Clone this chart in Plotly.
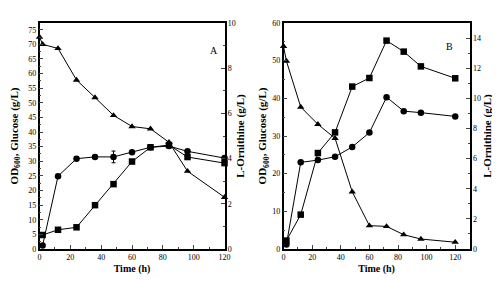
import plotly.graph_objects as go

# ---------------- Panel A data ----------------
time_glc_A = [0, 2, 12, 24, 36, 48, 60, 72, 84, 96, 120]
glucose_A = [72.5, 70.0, 68.6, 57.8, 51.8, 45.7, 41.9, 41.1, 36.5, 26.6, 17.7]
time_A = [2, 12, 24, 36, 48, 60, 72, 84, 96, 120]
od_A = [1.2, 24.9, 30.9, 31.5, 31.5, 33.1, 34.8, 35.2, 33.4, 31.1]
od_err_A = [0, 0, 0, 0, 2.0, 0, 0, 0, 0, 0]
orn_A = [0.62, 0.85, 0.96, 1.94, 2.87, 3.87, 4.5, 4.6, 4.07, 3.8]

# ---------------- Panel B data ----------------
time_glc_B = [0, 2, 12, 24, 36, 48, 60, 72, 84, 96, 120]
glucose_B = [53.8, 49.9, 37.7, 33.1, 29.4, 15.2, 6.2, 6.0, 3.8, 2.65, 1.8]
time_B = [2, 12, 24, 36, 48, 60, 72, 84, 96, 120]
od_B = [1.2, 23.0, 23.6, 24.5, 27.1, 30.9, 40.3, 36.6, 36.2, 35.2]
orn_B = [0.56, 2.28, 6.37, 7.74, 10.78, 11.35, 13.83, 13.1, 12.12, 11.33]

x_ticks = [0, 20, 40, 60, 80, 100, 120]

FONT = "Liberation Serif"
BLACK = "black"

fig = go.Figure()

def add(x, y, sym, xa, ya, err=None):
    tr = dict(x=x, y=y, mode="lines+markers", xaxis=xa, yaxis=ya,
              line=dict(color=BLACK, width=1),
              marker=dict(symbol=sym, size=6.5, color=BLACK),
              showlegend=False, cliponaxis=False)
    if err is not None:
        tr["error_y"] = dict(type="data", array=err, visible=True,
                             color=BLACK, thickness=1, width=2)
    fig.add_trace(go.Scatter(**tr))

# Panel A
add(time_glc_A, glucose_A, "triangle-up", "x", "y")
add(time_A, od_A, "circle", "x", "y", od_err_A)
add(time_A, orn_A, "square", "x", "y2")
# Panel B
add(time_glc_B, glucose_B, "triangle-up", "x2", "y3")
add(time_B, od_B, "circle", "x2", "y3")
add(time_B, orn_B, "square", "x2", "y4")

tickfont = dict(family=FONT, size=8, color=BLACK)
xtitlefont = dict(family=FONT, size=10, color=BLACK, weight="bold")
ytitlefont = dict(family=FONT, size=11, color=BLACK, weight="bold")

def xax(domain, rng, anchor):
    return dict(domain=domain, range=rng, anchor=anchor,
                tickvals=x_ticks, ticks="inside", ticklen=4, tickwidth=1,
                minor=dict(dtick=10, tick0=0, ticks="inside", ticklen=2, tickwidth=1),
                showline=True, linecolor=BLACK, linewidth=1.5, mirror=True,
                showgrid=False, zeroline=False, tickfont=tickfont,
                title=dict(text="Time (h)", font=xtitlefont, standoff=4))

def yleft(rng, dtick, mdtick, anchor, domain, standoff):
    return dict(domain=domain, range=rng, anchor=anchor, dtick=dtick, tick0=0,
                ticks="inside", ticklen=4, tickwidth=1,
                minor=dict(dtick=mdtick, ticks="inside", ticklen=2, tickwidth=1),
                showline=True, linecolor=BLACK, linewidth=1.5, mirror=False,
                showgrid=False, zeroline=False, tickfont=tickfont,
                title=dict(text="OD<sub>600</sub>, Glucose (g/L)", font=ytitlefont,
                           standoff=standoff))

def yright(rng, overlay, anchor):
    return dict(range=rng, overlaying=overlay, anchor=anchor, side="right",
                dtick=2, tick0=0, ticks="inside", ticklen=4, tickwidth=1,
                minor=dict(dtick=1, ticks="inside", ticklen=2, tickwidth=1),
                showline=True, linecolor=BLACK, linewidth=1.5,
                showgrid=False, zeroline=False, tickfont=tickfont,
                title=dict(text="L-Ornithine (g/L)", font=ytitlefont, standoff=1))

ydom = [0, 1]
fig.update_layout(
    width=500, height=282,
    margin=dict(l=0, r=0, t=15, b=41),
    paper_bgcolor="white", plot_bgcolor="white",
    xaxis=xax([0.06, 0.436], [0, 120], "y"),
    yaxis=yleft([0, 77.3], 5, 2.5, "x", ydom, 8),
    yaxis2=yright([0, 10], "y", "x"),
    xaxis2=xax([0.556, 0.934], [0, 130], "y3"),
    yaxis3=yleft([0, 60], 10, 5, "x2", ydom, 3),
    yaxis4=yright([0, 15], "y3", "x2"),
    annotations=[
        dict(text="A", x=0.414, y=0.91, xref="paper", yref="paper", showarrow=False,
             font=dict(family=FONT, size=10, color=BLACK)),
        dict(text="B", x=0.905, y=0.93, xref="paper", yref="paper", showarrow=False,
             font=dict(family=FONT, size=10, color=BLACK)),
    ],
)

fig.write_html("out.html")
